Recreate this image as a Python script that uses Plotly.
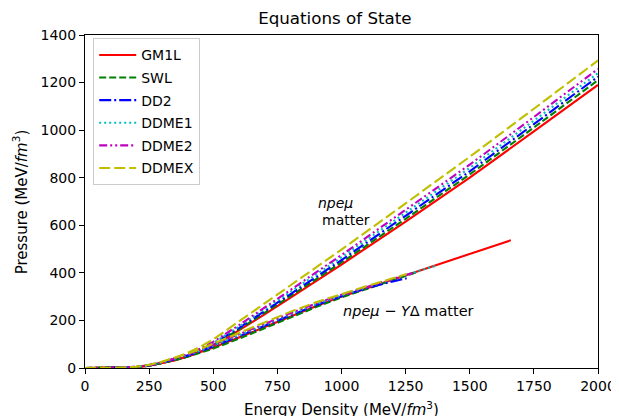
import plotly.graph_objects as go

# ---- data ----
models = ["GM1L", "SWL", "DD2", "DDME1", "DDME2", "DDMEX"]

# npe-mu matter branch, common energy-density grid
e_npemu = [0, 100, 200, 250, 300, 350, 400, 450, 500, 600, 700, 800, 900, 1000, 1250, 1500, 1750, 2000]
p_npemu_GM1L  = [0, 0.5, 4, 10, 20, 33, 48, 68, 92, 157, 225, 295, 365, 435, 615, 800, 995, 1190]
p_npemu_SWL   = [0, 0.5, 4, 10, 20, 34, 50, 71, 96, 162, 231, 302, 373, 444, 627, 814, 1011, 1210]
p_npemu_DD2   = [0, 0.5, 4.5, 11, 22, 36, 53, 75, 101, 168, 238, 310, 382, 454, 640, 827, 1025, 1225]
p_npemu_DDME1 = [0, 0.5, 4.5, 11, 22, 37, 55, 78, 105, 174, 246, 319, 392, 465, 653, 841, 1040, 1240]
p_npemu_DDME2 = [0, 0.5, 5, 12, 23, 39, 58, 82, 110, 180, 253, 327, 401, 475, 665, 855, 1055, 1257]
p_npemu_DDMEX = [0, 0.6, 5, 13, 26, 43, 64, 90, 120, 195, 270, 346, 422, 498, 692, 888, 1090, 1293]

# npe-mu - Y Delta matter branch
e_hyp_GM1L  = [0, 100, 200, 250, 300, 350, 400, 450, 500, 600, 700, 800, 900, 1000, 1100, 1200, 1250, 1300, 1400, 1500, 1600, 1660]
p_hyp_GM1L  = [0, 0.5, 4, 10, 20, 33, 48, 66, 86, 128, 172, 218, 260, 300, 336, 372, 392, 410, 445, 480, 515, 537]
e_hyp_SWL   = [0, 100, 200, 250, 300, 350, 400, 450, 500, 600, 700, 800, 900, 1000, 1100, 1200, 1250, 1300]
p_hyp_SWL   = [0, 0.5, 4, 10, 20, 33, 47, 64, 82, 123, 167, 213, 256, 297, 334, 370, 389, 405]
e_hyp_DD2   = [0, 100, 200, 250, 300, 350, 400, 450, 500, 600, 700, 800, 900, 1000, 1100, 1200, 1254]
p_hyp_DD2   = [0, 0.5, 4.5, 11, 22, 36, 52, 70, 90, 133, 177, 222, 264, 302, 336, 364, 377]
e_hyp_DDME1 = [0, 100, 200, 250, 300, 350, 400, 450, 500, 600, 700, 800, 900, 1000, 1100, 1200, 1250, 1300, 1369]
p_hyp_DDME1 = [0, 0.5, 4.5, 11, 22, 37, 54, 73, 94, 137, 181, 226, 268, 305, 340, 374, 391, 408, 430]
e_hyp_DDME2 = [0, 100, 200, 250, 300, 350, 400, 450, 500, 600, 700, 800, 900, 1000, 1100, 1200, 1250, 1290]
p_hyp_DDME2 = [0, 0.5, 5, 12, 23, 39, 57, 77, 98, 141, 185, 230, 271, 308, 342, 375, 391, 402]
e_hyp_DDMEX = [0, 100, 200, 250, 300, 350, 400, 450, 500, 600, 700, 800, 900, 1000, 1100, 1200, 1254]
p_hyp_DDMEX = [0, 0.6, 5, 13, 26, 42, 60, 80, 102, 146, 190, 236, 276, 312, 345, 377, 395]

x_ticks = [0, 250, 500, 750, 1000, 1250, 1500, 1750, 2000]
y_ticks = [0, 200, 400, 600, 800, 1000, 1200, 1400]

# ---- styles ----
colors = {"GM1L": "#ff0000", "SWL": "#008000", "DD2": "#0000ff",
          "DDME1": "#00bfbf", "DDME2": "#bf00bf", "DDMEX": "#bfbf00"}
dashes = {"GM1L": "solid", "SWL": "7px,3px", "DD2": "12px,3px,2px,3px",
          "DDME1": "2px,3px", "DDME2": "8px,3px,2px,3px,2px,3px", "DDMEX": "11px,4px"}

npemu = {"GM1L": p_npemu_GM1L, "SWL": p_npemu_SWL, "DD2": p_npemu_DD2,
         "DDME1": p_npemu_DDME1, "DDME2": p_npemu_DDME2, "DDMEX": p_npemu_DDMEX}
hyp = {"GM1L": (e_hyp_GM1L, p_hyp_GM1L), "SWL": (e_hyp_SWL, p_hyp_SWL),
       "DD2": (e_hyp_DD2, p_hyp_DD2), "DDME1": (e_hyp_DDME1, p_hyp_DDME1),
       "DDME2": (e_hyp_DDME2, p_hyp_DDME2), "DDMEX": (e_hyp_DDMEX, p_hyp_DDMEX)}

FONT = "'DejaVu Sans', DejaVuSans, Verdana, sans-serif"
fig = go.Figure()
for m in models:
    line = dict(color=colors[m], dash=dashes[m], width=2.1)
    fig.add_trace(go.Scatter(x=e_npemu, y=npemu[m], mode="lines", name=m,
                             line=line, legendgroup=m, showlegend=True))
for m in models:
    line = dict(color=colors[m], dash=dashes[m], width=2.1)
    ex, py = hyp[m]
    fig.add_trace(go.Scatter(x=ex, y=py, mode="lines", name=m,
                             line=line, legendgroup=m, showlegend=False))

txt_font = dict(family=FONT, size=14, color="black")
fig.add_annotation(x=975, y=694, text="<i>npeμ</i>", showarrow=False, font=txt_font)
fig.add_annotation(x=1018, y=622, text="matter", showarrow=False, font=txt_font)
fig.add_annotation(x=1262, y=240, text="<i>npeμ</i> − <i>Y</i>Δ matter", showarrow=False,
                   font=dict(family=FONT, size=14.5, color="black"))

# axis titles as annotations (paper coords)
fig.add_annotation(xref="paper", yref="paper", x=0.5, y=-0.123, xanchor="center", yanchor="middle",
                   text="Energy Density (MeV/<i>fm</i><sup>3</sup>)", showarrow=False,
                   font=dict(family=FONT, size=15, color="black"))
fig.add_annotation(xref="paper", yref="paper", x=-0.127, y=0.5, xanchor="center", yanchor="middle",
                   text="Pressure (MeV/<i>fm</i><sup>3</sup>)", showarrow=False, textangle=-90,
                   font=dict(family=FONT, size=15, color="black"))

axis_common = dict(showline=True, linecolor="black", linewidth=1, mirror=True,
                   ticks="outside", ticklen=5, tickwidth=1, tickcolor="black",
                   showgrid=False, zeroline=False, automargin=False,
                   tickfont=dict(family=FONT, size=14, color="black"))
fig.update_xaxes(range=[0, 2000], tickvals=x_ticks, ticktext=[str(v) for v in x_ticks], **axis_common)
fig.update_yaxes(range=[0, 1400], tickvals=y_ticks, ticktext=[str(v) for v in y_ticks], **axis_common)

# the page body adds an 8px offset, so the figure is 611x408 with margins compensated
fig.update_layout(
    width=611, height=408,
    margin=dict(l=77, r=21, t=27, b=48, autoexpand=False),
    paper_bgcolor="white", plot_bgcolor="white",
    title=dict(text="Equations of State", x=0.535, xanchor="center", y=0.975, yanchor="middle",
               font=dict(family=FONT, size=16.7, color="black")),
    legend=dict(x=0.016, y=0.99, xanchor="left", yanchor="top",
                bgcolor="rgba(255,255,255,0.8)", bordercolor="#cccccc", borderwidth=1,
                font=dict(family=FONT, size=14, color="black"),
                tracegroupgap=1.4, itemwidth=37),
    showlegend=True,
)

fig.write_html("out.html")
